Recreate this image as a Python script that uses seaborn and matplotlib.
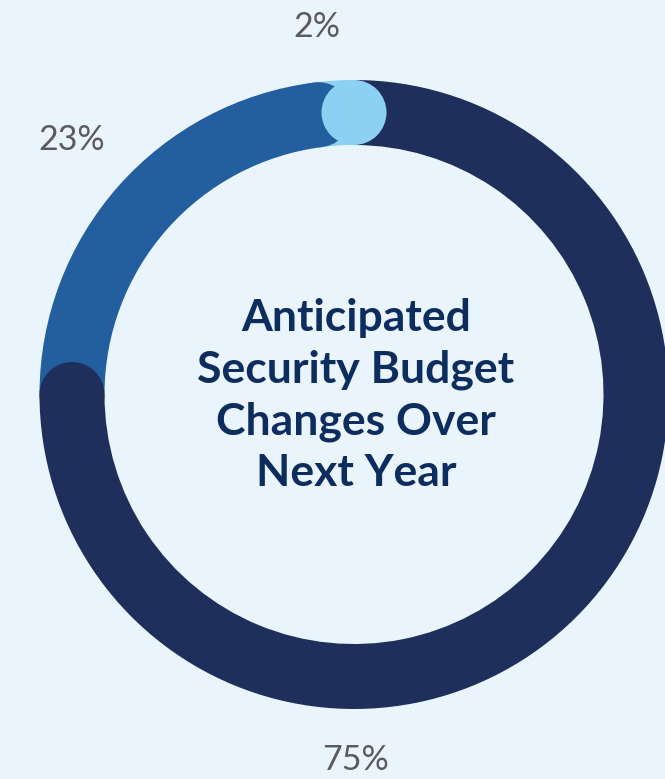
import numpy as np
import matplotlib
matplotlib.use('Agg')
import matplotlib.pyplot as plt
import seaborn as sns

# slices in drawing order, clockwise from 12 o'clock
labels = ['75%', '23%', '2%']
values = [75, 23, 2]
colors = ['#1e2f5c', '#235e9f', '#8cd1f2']
title_lines = ['Anticipated', 'Security Budget', 'Changes Over', 'Next Year']

sns.set_theme(style='white')
bg = '#eaf4fd'

W, H = 665, 779
fig = plt.figure(figsize=(W / 100, H / 100), dpi=100, facecolor=bg)
ax = fig.add_axes([0, 0, 1, 1])
ax.set_facecolor(bg)

cx, cy = 354, H - 394.5
r_out, ring = 314.5, 65
r_mid = r_out - ring / 2

ax.pie(values, colors=colors, radius=r_out, center=(cx, cy), startangle=90,
       counterclock=False, wedgeprops=dict(width=ring, linewidth=0))

# rounded end of each slice, laid over the start of the next one
ends = np.cumsum(values) / sum(values) * 2 * np.pi
for ang, col in zip(ends, colors):
    ax.add_patch(plt.Circle((cx + r_mid * np.sin(ang), cy + r_mid * np.cos(ang)),
                            ring / 2, color=col, lw=0, zorder=5))

ax.set_xlim(0, W)
ax.set_ylim(0, H)
ax.set_aspect('equal')
ax.axis('off')

# percentage labels
label_pos = {'75%': (355, 770), '23%': (72, 150), '2%': (317, 37)}
for lab in labels:
    x, y = label_pos[lab]
    ax.text(x, H - y, lab, ha='center', va='baseline', fontsize=24.5,
            family='Lato', fontweight='normal', color='#5b5a5f')

for i, line in enumerate(title_lines):
    ax.text(cx + 2, H - (331 + 51.7 * i), line, ha='center', va='baseline',
            fontsize=32, family='Lato', fontweight='bold', color='#0e2d5f')

fig.savefig('out.png', dpi=100, facecolor=bg)
